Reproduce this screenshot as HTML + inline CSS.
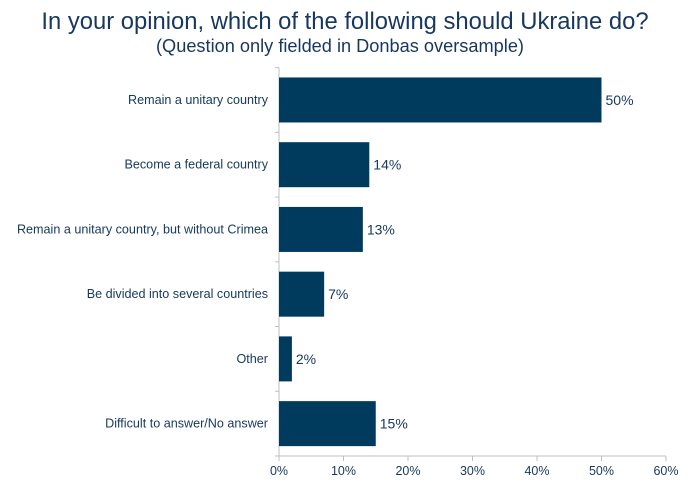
<!DOCTYPE html>
<html><head><style>
body{margin:0;background:#fff;font-family:"Liberation Sans",sans-serif;}
svg text{font-family:"Liberation Sans",sans-serif;}
</style></head><body>
<svg width="690" height="488" xmlns="http://www.w3.org/2000/svg">
<text x="345" y="29" text-anchor="middle" font-size="23.8" fill="#17375e">In your opinion, which of the following should Ukraine do?</text>
<text x="340" y="52" text-anchor="middle" font-size="18.2" fill="#17375e">(Question only fielded in Donbas oversample)</text>
<g id="plot"></g>
</svg>
<script>
const categories=["Remain a unitary country","Become a federal country","Remain a unitary country, but without Crimea","Be divided into several countries","Other","Difficult to answer/No answer"];
const values=[50,14,13,7,2,15];
const tickLabels=[0,10,20,30,40,50,60];
const x0=279,x1=666,yTop=67.6,yBot=456,maxV=60;
const xs=v=>x0+(x1-x0)*v/maxV;
const band=(yBot-yTop)/categories.length;
const g=document.getElementById('plot');
const NS='http://www.w3.org/2000/svg';
function mk(t,a){const e=document.createElementNS(NS,t);for(const k in a)e.setAttribute(k,a[k]);g.appendChild(e);return e;}
let ax=mk('line',{x1:x0,y1:yBot,x2:x1,y2:yBot,stroke:'#bfbfbf'});


let ay=mk('line',{x1:x0,y1:yTop,x2:x0,y2:yBot,stroke:'#bfbfbf'});


tickLabels.forEach(t=>{
 mk('line',{x1:xs(t),y1:yBot,x2:xs(t),y2:yBot+5,stroke:'#bfbfbf'});
 const tx=mk('text',{x:xs(t),y:yBot+19,'text-anchor':'middle','font-size':'12.5',fill:'#17375e'});
 tx.textContent=t+'%';
 
 
});
for(let i=0;i<=categories.length;i++)mk('line',{x1:x0-4,y1:yTop+band*i,x2:x0,y2:yTop+band*i,stroke:'#bfbfbf'});
categories.forEach((c,i)=>{
 const cy=yTop+band*(i+0.5),h=45;
 const r=mk('rect',{x:x0,y:cy-h/2,width:xs(values[i])-x0,height:h,fill:'#003a5d'});
 
 
 const l=mk('text',{x:268,y:cy+4,'text-anchor':'end','font-size':'12.6',fill:'#17375e'});
 l.textContent=c;
 
 
 const v=mk('text',{x:xs(values[i])+4,y:cy+5,'font-size':'14',fill:'#17375e'});
 v.textContent=values[i]+'%';
 
 
});
</script>
</body></html>
